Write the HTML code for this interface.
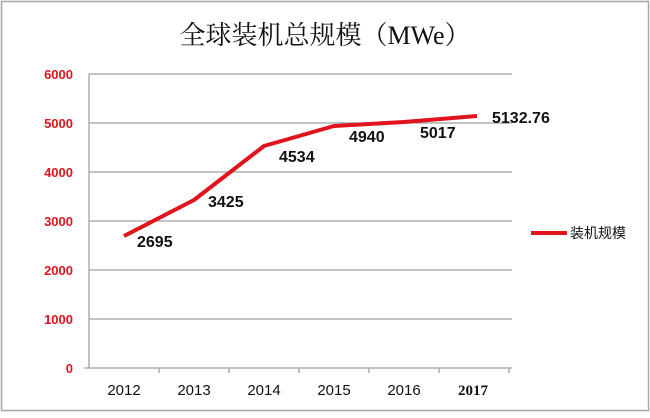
<!DOCTYPE html><html><head><meta charset="utf-8"><style>body{margin:0;width:650px;height:413px;background:#fff;overflow:hidden}</style></head><body>
<svg width="650" height="413" xmlns="http://www.w3.org/2000/svg" font-family="Liberation Sans, sans-serif">
<rect x="1.5" y="1.5" width="647" height="409" fill="#fff" stroke="#a6a6a6" stroke-width="1.5"/>
<text x="325" y="44" text-anchor="middle" font-size="26" font-family="Liberation Serif, Noto Serif CJK SC, serif" fill="#111">全球装机总规模（MWe）</text>
<g stroke="#a0a0a0" stroke-width="1.3">
<line x1="89" y1="74" x2="512" y2="74"/><line x1="89" y1="123" x2="512" y2="123"/><line x1="89" y1="172" x2="512" y2="172"/><line x1="89" y1="221" x2="512" y2="221"/><line x1="89" y1="270" x2="512" y2="270"/><line x1="89" y1="319" x2="512" y2="319"/><line x1="89" y1="368" x2="512" y2="368"/>
<line x1="89" y1="74" x2="89" y2="368"/>
<line x1="84" y1="368" x2="89" y2="368"/>
<line x1="159" y1="368" x2="159" y2="373"/><line x1="229" y1="368" x2="229" y2="373"/><line x1="299" y1="368" x2="299" y2="373"/><line x1="369" y1="368" x2="369" y2="373"/><line x1="439" y1="368" x2="439" y2="373"/><line x1="509" y1="368" x2="509" y2="373"/>
</g>
<g fill="#e0141e" font-size="13" font-weight="bold" text-anchor="end">
<text x="73" y="79">6000</text><text x="73" y="128">5000</text><text x="73" y="177">4000</text><text x="73" y="226">3000</text><text x="73" y="275">2000</text><text x="73" y="324">1000</text><text x="73" y="373">0</text>
</g>
<g fill="#111" font-size="15" text-anchor="middle">
<text x="124" y="395">2012</text><text x="194" y="395">2013</text><text x="264" y="395">2014</text><text x="334" y="395">2015</text><text x="404" y="395">2016</text><text x="473" y="395" font-weight="bold" font-family="Liberation Serif, serif">2017</text>
</g>
<polyline points="124,236 194,200 264,146 334,126 404,122 477,116" fill="none" stroke="#e0141e" stroke-width="4" stroke-linejoin="round"/>
<g fill="#111" font-size="16" font-weight="bold">
<text x="137" y="247">2695</text><text x="208" y="207">3425</text><text x="279" y="162">4534</text><text x="349" y="142">4940</text><text x="420" y="138">5017</text><text x="492" y="123">5132.76</text>
</g>
<line x1="531" y1="233" x2="567" y2="233" stroke="#e0141e" stroke-width="4"/>
<text x="570" y="238" font-size="14" font-family="Liberation Sans, Noto Sans CJK SC, sans-serif" fill="#111">装机规模</text>
</svg></body></html>
